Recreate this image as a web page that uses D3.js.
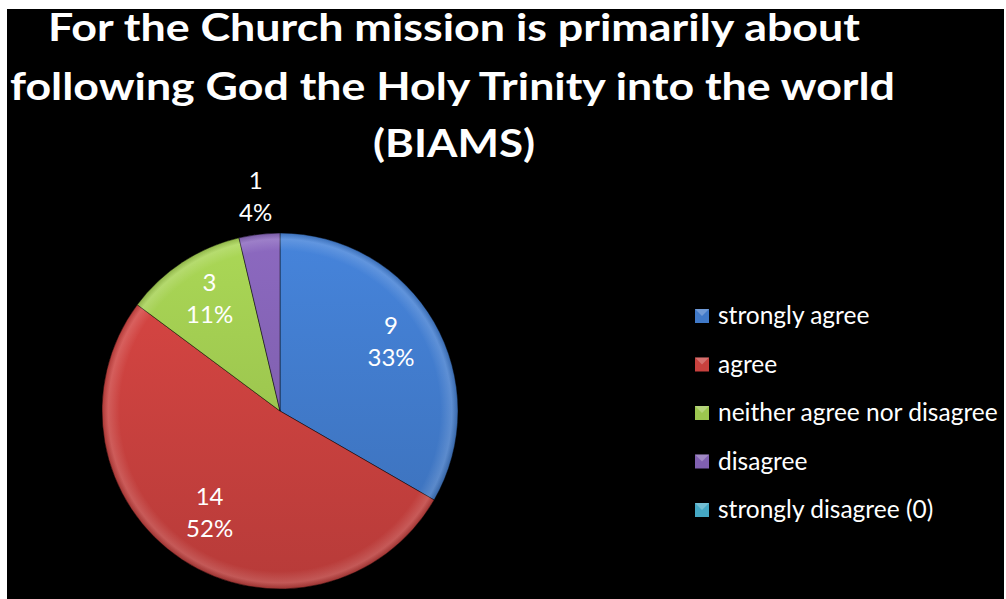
<!DOCTYPE html>
<html>
<head>
<meta charset="utf-8">
<script src="https://cdn.jsdelivr.net/npm/d3@7"></script>
<style>
  html, body { margin: 0; padding: 0; background: #ffffff; }
  svg { display: block; }
</style>
</head>
<body>
<svg id="chart" width="1006" height="599"></svg>
<script>
// ---- data ----
const titleLines = [
  "For the Church mission is primarily about",
  "following God the Holy Trinity into the world",
  "(BIAMS)"
];
const categories = ["strongly agree", "agree", "neither agree nor disagree", "disagree", "strongly disagree (0)"];
const values = [9, 14, 3, 1, 0];
const colors = ["#4079c8", "#c8413e", "#9cc64f", "#8060b0", "#45a8c4"];

// ---- layout ----
const svg = d3.select("#chart");
svg.append("rect").attr("x", 7).attr("y", 9).attr("width", 997).attr("height", 590).attr("fill", "#000");

const defs = svg.append("defs");

// Title
const titleSpec = [
  { x0: 48, x1: 860, y: 41 },
  { x0: 10, x1: 895, y: 100 },
  { x0: 373, x1: 535, y: 157 }
];
svg.append("g").selectAll("text").data(titleLines).join("text")
  .attr("x", (d, i) => titleSpec[i].x0)
  .attr("y", (d, i) => titleSpec[i].y)
  .attr("textLength", (d, i) => titleSpec[i].x1 - titleSpec[i].x0)
  .attr("lengthAdjust", "spacingAndGlyphs")
  .attr("fill", "#fff")
  .attr("font-family", "Lato, 'Open Sans', sans-serif")
  .attr("font-weight", "bold")
  .attr("font-size", 38)
  .text(d => d);

// Pie
const cx = 280, cy = 411, R = 178;
const total = d3.sum(values);
const pie = d3.pie().sort(null).value(d => d)(values);
const arc = d3.arc().innerRadius(0).outerRadius(R);

colors.forEach((c, i) => {
  const g = defs.append("linearGradient").attr("id", "lg" + i)
    .attr("gradientUnits", "userSpaceOnUse")
    .attr("x1", 0).attr("y1", -R).attr("x2", 0).attr("y2", R);
  g.append("stop").attr("offset", 0).attr("stop-color", d3.color(c).brighter(0.25));
  g.append("stop").attr("offset", 1).attr("stop-color", d3.color(c).darker(0.25));
});
const rim = defs.append("radialGradient").attr("id", "rim")
  .attr("gradientUnits", "userSpaceOnUse").attr("cx", 0).attr("cy", 0).attr("r", R);
rim.append("stop").attr("offset", 0.9).attr("stop-color", "#fff").attr("stop-opacity", 0);
rim.append("stop").attr("offset", 0.965).attr("stop-color", "#fff").attr("stop-opacity", 0.15);
rim.append("stop").attr("offset", 1).attr("stop-color", "#000").attr("stop-opacity", 0.15);

const pg = svg.append("g").attr("transform", `translate(${cx},${cy})`);
pg.selectAll("path.slice").data(pie.filter(d => d.value > 0)).join("path")
  .attr("class", "slice")
  .attr("d", arc)
  .attr("fill", d => `url(#lg${d.index})`)
  .attr("stroke", "rgba(0,0,0,0.45)")
  .attr("stroke-width", 1);
pg.selectAll("path.rim").data(pie.filter(d => d.value > 0)).join("path")
  .attr("class", "rim")
  .attr("d", arc)
  .attr("fill", "url(#rim)");

// Labels
const inArc = d3.arc().innerRadius(R * 0.72).outerRadius(R * 0.72);
const outArc = d3.arc().innerRadius(R * 1.18).outerRadius(R * 1.18);
const lab = pg.selectAll("g.lab").data(pie.filter(d => d.value > 0)).join("g")
  .attr("class", "lab")
  .attr("transform", d => {
    const p = (d.value / total < 0.05 ? outArc : inArc).centroid(d);
    return `translate(${p[0]},${p[1] - 5})`;
  });
const fmt = v => Math.round(v / total * 100) + "%";
lab.append("text").attr("y", -8).text(d => d.value);
lab.append("text").attr("y", 24).text(d => fmt(d.value));
lab.selectAll("text")
  .attr("text-anchor", "middle")
  .attr("fill", "#fff")
  .attr("font-family", "Lato, 'Open Sans', sans-serif")
  .attr("font-size", 24);

// Legend
const ly0 = 316, ldy = 48.5;
const lg = svg.append("g");
const items = lg.selectAll("g").data(categories).join("g")
  .attr("transform", (d, i) => `translate(695,${ly0 + i * ldy})`);
items.append("rect").attr("x", 0).attr("y", -7).attr("width", 14).attr("height", 14)
  .attr("fill", (d, i) => colors[i]);
items.append("path").attr("d", "M0,-7 L7,0 L14,-7 Z").attr("fill", "rgba(255,255,255,0.25)");
items.append("text").attr("x", 23).attr("y", 8)
  .attr("fill", "#fff")
  .attr("font-family", "Lato, 'Open Sans', sans-serif")
  .attr("font-size", 24.5)
  .text(d => d);
</script>
</body>
</html>
